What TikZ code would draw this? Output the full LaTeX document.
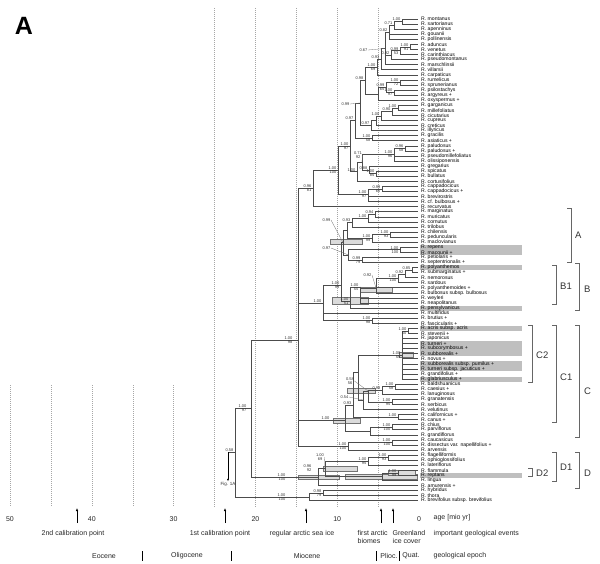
\documentclass[tikz,border=0pt]{standalone}
\usepackage{fontspec}
\setmainfont{Liberation Sans}
\usetikzlibrary{arrows.meta}

\tikzset{
  br/.style={draw=black!70, line width=0.45pt},
  taxon/.style={anchor=west, inner xsep=3pt, inner ysep=0.3pt, font=\fontsize{5.1}{5}\selectfont},
  pp/.style={anchor=south east, inner sep=0.4pt, font=\fontsize{4}{4}\selectfont, text=black!80},
  bs/.style={anchor=north east, inner sep=0.4pt, font=\fontsize{4}{4}\selectfont, text=black!80},
  leadlab/.style={inner sep=0.4pt, align=center, font=\fontsize{4}{4.6}\selectfont, text=black!80},
  lead/.style={draw=black!55, line width=0.3pt},
  hl/.style={fill=black!25},
  ci/.style={fill=black!14, draw=black!55, line width=0.3pt},
  ageline/.style={draw=black!35, line width=0.3pt, dash pattern=on 1pt off 1pt},
  brk/.style={draw=black!60, line width=0.45pt},
  clade/.style={anchor=west, inner sep=0pt, font=\fontsize{9.5}{10}\selectfont, text=black!80},
  axis/.style={inner sep=0.5pt, font=\fontsize{7}{8.5}\selectfont, text=black!85},
  evt/.style={-{Latex[length=3pt,width=2.4pt]}, line width=0.6pt},
}

\begin{document}
\begin{tikzpicture}[x=1pt,y=-1pt]
\useasboundingbox (0,0) rectangle (600,564);

\node[font=\fontsize{25}{25}\selectfont\bfseries] (panel) at (24,26) {A};

\foreach \a in {5,10,15,20,25} \draw[ageline] ({419-8.18*\a},8) -- ({419-8.18*\a},507);
\foreach \a in {30,35,40,45,50} \draw[ageline] ({419-8.18*\a},385) -- ({419-8.18*\a},507);

\fill[hl] (420,244.6) rectangle (522,254.8);
\fill[hl] (420,264.9) rectangle (522,270.0);
\fill[hl] (420,305.5) rectangle (522,310.5);
\fill[hl] (420,325.8) rectangle (522,330.8);
\fill[hl] (420,341.0) rectangle (522,356.1);
\fill[hl] (420,361.3) rectangle (522,371.3);
\fill[hl] (420,376.5) rectangle (522,381.5);
\fill[hl] (420,472.8) rectangle (522,477.8);

\draw[ci] (330,239.5) rectangle (362,244.5);
\draw[ci] (360,287.5) rectangle (392,292.5);
\draw[ci] (332,297.5) rectangle (368,304.5);
\draw[ci] (399,352.5) rectangle (413,357.5);
\draw[ci] (347,388.5) rectangle (375,393.5);
\draw[ci] (333,418) rectangle (360,423);
\draw[ci] (323,466) rectangle (357,471);
\draw[ci] (298,475) rectangle (339,479);
\draw[ci] (345,474) rectangle (417,479);
\draw[ci] (388,470.5) rectangle (415,475);

\foreach \nm [count=\i] in {R. montanus, R. sartorianus, R. apenninus, R. gouanii, R. pollinensis,
  R. aduncus, R. venetus, R. carinthiacus, R. pseudomontanus, R. marschlinsii, R. villarsii,
  R. carpaticus, R. rumelicus, R. sprunerianus, R. psilostachys, R. argyreus +, R. oxyspermus +,
  R. garganicus, R. millefoliatus, R. cicutarius, R. cupreus, R. creticus, R. illyricus,
  R. gracilis, R. asiaticus +, R. paludosus, R. paludosus +, R. pseudomillefoliatus,
  R. olissiponensis, R. gregarius, R. spicatus, R. bullatus, R. cortusifolius, R. cappadocicus,
  R. cappadocicus +, R. brevirostris, R. cf. bulbosus +, R. recurvatus, R. marginatus,
  R. muricatus, R. cornutus, R. trilobus, R. chilensis, R. peduncularis, R. maclovianus,
  R. repens, R. macounii +, R. petiolaris +, R. septentrionalis +, R. polyanthemos,
  R. submarginatus +, R. nemorosus, R. sardous, R. polyanthemoides +, R. bulbosus subsp. bulbosus,
  R. weyleri, R. neapolitanus, R. pensylvanicus, R. multifidus, R. brutius +, R. fascicularis +,
  R. acris subsp. acris, R. stevenii +, R. japonicus, R. turneri +, R. subcorymbosus +,
  R. subborealis +, R. novus +, R. subborealis subsp. pumilus +, R. turneri subsp. jacuticus +,
  R. grandifolius +, R. glabriusculus +, R. baldshuanicus, R. caesius +, R. lanuginosus,
  R. granatensis, R. serbicus, R. velutinus, R. californicus +, R. canus +, R. chius,
  R. parviflorus, R. grandiflorus, R. caucasicus, R. dissectus var. napellifolius +, R. arvensis,
  R. flagelliformis, R. ophioglossifolius, R. lateriflorus, R. flammula, R. reptans, R. lingua,
  R. amurensis +, R. hybridus, R. thora, R. brevifolius subsp. brevifolius}
  \node[taxon] (t\i) at (418,{19+(\i-1)*5.07}) {\nm};

\foreach \n/\x/\y in {a1/402/21.5, a2/394/25.3, a3/389/32.3, a4/410/46.9, a5/400/50.7,
  a6/391/55.1, a7/385/48.5, a8/381/59.1, a9/377/67, b1/400/82.4, b2/394/92.5, b3/386/87.5,
  b4/378/93.8, c1/365/80.4, b5/398/107.8, b6/392/111.6, b7/381/116, b8/376/120.7, b9/371/125.6,
  c2/360/103, g1/372/138.2, c3/355/120.6, d1/405/148.3, d2/394/154.6, e1/376/173.6,
  e2/369/169.8, d3/362/162.2, d4/357/171.7, U0/350/146.2, f1/382/188.8, f3/368/194,
  M0/338/170, R1/313/188.3,
  h1/375/214.2, h2/368/218, h3/352/222.5, h4/390/234.5, h5/372/238.3, h6/347/230.4,
  h7/400/249.7, h8/362/259.9, h9/348/254.8, h10/343/242.6,
  k1/412/270, k2/405/273.8, k3/398/278.2, k4/376/288, k5/360/287, Q2/350/301, Q1/341/285,
  br/372/320.6, P/323/303,
  cA/408/330.8, c2r/402/355, n1/395/386.6, n5/382/390.4, n2/392/401.8, n6/368/391,
  n7/363/400, n3/398/417, C1a/358/372, C1r/353/405, n4/392/427.2, n8/370/431,
  Croot/345/420, o1/392/442.3, o2/348/446, nP/298/340,
  q1/388/457.5, q2/368/461.3, q3/398/472.8, q4/382/476.6, Da/325/468, Ds/318/477,
  w1/323/493, w2/309/496.8, n251/251/408, root/235/452}
  \coordinate (\n) at (\x,\y);

\foreach \p/\c in {a1/t1, a1/t2, a2/a1, a2/t3, a3/a2, a3/t4, a3/t5, a4/t6, a4/t7, a5/a4,
  a5/t8, a6/a5, a6/t9, a7/a3, a7/a6, a7/t10, a8/a7, a8/t11, a9/a8, a9/t12,
  b1/t13, b1/t14, b2/t15, b2/t16, b3/b1, b3/b2, b4/b3, b4/t17, c1/a9, c1/b4,
  b5/t18, b5/t19, b6/b5, b6/t20, b7/b6, b7/t21, b8/b7, b8/t22, b9/b8, b9/t23, c2/c1, c2/b9,
  g1/t24, g1/t25, c3/c2, c3/g1,
  d1/t26, d1/t27, d2/d1, d2/t28, d2/t29, e1/t31, e1/t32, e2/t30, e2/e1, d3/d2, d3/e2,
  d4/d3, d4/t33, U0/c3, U0/d4, f1/t34, f1/t35, f3/f1, f3/t36, f3/t37, M0/U0, M0/f3,
  R1/M0, R1/t38,
  h1/t39, h1/t40, h2/h1, h2/t41, h3/h2, h3/t42, h4/t43, h4/t44, h5/h4, h5/t45, h6/h3, h6/h5,
  h7/t46, h7/t47, h8/t48, h8/t49, h9/h7, h9/h8, h10/h6, h10/h9,
  k1/t50, k1/t51, k2/k1, k2/t52, k3/k2, k3/t53, k4/k3, k4/t54, k4/t55, k5/k4, k5/t56, k5/t57,
  Q2/k5, Q2/t58, Q1/h10, Q1/Q2, br/t60, br/t61, P/Q1, P/t59, P/br,
  cA/t62, cA/t63, c2r/cA, c2r/t64, c2r/t65, c2r/t66, c2r/t67, c2r/t68, c2r/t69, c2r/t70,
  c2r/t71, c2r/t72, n1/t73, n1/t74, n5/n1, n5/t75, n2/t76, n2/t77, n6/n5, n6/n2, n7/n6,
  n7/t78, n3/t79, n3/t80, C1a/c2r, C1a/n7, C1r/C1a, C1r/n3, n4/t81, n4/t82, n8/n4, n8/t83,
  Croot/C1r, Croot/n8, o1/t84, o1/t85, o2/o1, o2/t86, nP/R1, nP/P, nP/Croot, nP/o2,
  q1/t87, q1/t88, q2/q1, q2/t89, q3/t90, q3/t91, q4/q3, q4/t92, Da/q2, Da/q4, Ds/Da, Ds/t93,
  w1/t94, w1/t95, w2/w1, w2/t96, n251/nP, n251/Ds, root/n251, root/w2}
  \draw[br] (\p) |- (\c);

\foreach \c/\a/\b/\d in {a1/1.00/{}/0, a2/0.71/{}/0, a3/0.82/{}/0, a4/1.00/91/0, a5/0.99/53/0,
  a6/0.92/{}/0, a8/0.93/{}/0, a9/1.00/69/0, b1/1.00/72/0, b2/1.00/97/0, b3/0.99/65/0,
  c1/0.98/{}/0, b5/1.00/{}/0, b6/0.90/{}/0, b7/1.00/{}/0, b9/0.97/{}/0, g1/1.00/58/0,
  c3/0.97/{}/0, d1/0.96/58/0, d2/1.00/96/0, e1/1.00/85/0, e2/0.88/{}/0, d4/1.00/{}/0,
  U0/1.00/97/0, f1/0.99/60/0, f3/1.00/97/0, M0/1.00/100/0, R1/0.96/81/0,
  h1/0.94/{}/0, h2/1.00/{}/0, h3/0.93/{}/0, h4/1.00/93/0, h5/1.00/99/0, h7/1.00/100/0,
  h8/0.99/79/0, k1/0.85/{}/0, k2/0.92/{}/0, k3/1.00/100/0, k5/1.00/55/0, Q2/1.00/51/0,
  Q1/1.00/99/0, br/1.00/98/0, P/1.00/{}/0, cA/1.00/50/0, c2r/1.00/59/0, n1/1.00/58/0,
  n5/0.98/{}/0, n2/1.00/95/0, n3/1.00/{}/0, C1r/0.93/{}/0, n4/1.00/100/0, Croot/1.00/{}/-14,
  o1/1.00/100/0, o2/1.00/100/0, nP/1.00/98/-4, q1/1.00/93/0, q2/1.00/95/0, q3/1.00/99/0,
  Da/0.96/92/-12, Ds/1.00/100/-31, w1/0.98/79/0, w2/1.00/100/-22, n251/1.00/97/-3,
  root/0.58/{}/0}
  {\node[pp,xshift=\d pt-1pt] at (\c) {\a};
   \node[bs,xshift=\d pt-1pt] at (\c) {\b};}

\node[leadlab,anchor=east] (l1) at (368,50) {0.67};
\draw[lead] (l1.east) -- (a7);
\node[leadlab,anchor=east] (l2) at (350,104) {0.99};
\draw[lead] (l2.east) -- (c2);
\node[leadlab] (l3) at (358,155) {0.71\\92};
\draw[lead] (l3.east) -- (d3);
\node[leadlab,anchor=east] (l4) at (331,220) {0.99};
\draw[lead] (l4.east) -- (h10);
\node[leadlab,anchor=east] (l5) at (331,248) {0.97};
\draw[lead] (l5.east) -- (h9);
\node[leadlab,anchor=east] (l6) at (372,275) {0.92};
\draw[lead] (l6.east) -- (k4);
\node[leadlab] (l7) at (350,381) {0.58\\56};
\draw[lead] (l7.east) -- (n6);
\node[leadlab,anchor=east] (l8) at (349,397) {0.54};
\draw[lead] (l8.east) -- (n7);
\node[leadlab] (l9) at (320,457) {1.00\\69};
\draw[lead] (l9.east) -- (Da);

\coordinate (stub) at (228,452);
\draw[br] (stub) -- (root);
\node[leadlab,font=\fontsize{4.5}{5}\selectfont] (fig) at (228,484) {Fig. 1A};
\draw[-{Latex[length=2.5pt,width=2pt]}, line width=0.4pt] (stub) -- (fig.north);

\draw[brk] (567,208) -- (571,208) -- (571,262) -- (567,262);
\node[clade] (cladeA) at (575,235) {A};
\draw[brk] (552,265) -- (556,265) -- (556,304) -- (552,304);
\node[clade] (cladeB1) at (560,286) {B1};
\draw[brk] (575,263) -- (579,263) -- (579,310) -- (575,310);
\node[clade] (cladeB) at (584,289) {B};
\draw[brk] (528,325) -- (532,325) -- (532,382) -- (528,382);
\node[clade] (cladeC2) at (536,355) {C2};
\draw[brk] (552,325) -- (556,325) -- (556,422) -- (552,422);
\node[clade] (cladeC1) at (560,377) {C1};
\draw[brk] (575,325) -- (579,325) -- (579,437) -- (575,437);
\node[clade] (cladeC) at (584,391) {C};
\draw[brk] (528,468) -- (532,468) -- (532,476) -- (528,476);
\node[clade] (cladeD2) at (536,473) {D2};
\draw[brk] (552,452) -- (556,452) -- (556,481) -- (552,481);
\node[clade] (cladeD1) at (560,467) {D1};
\draw[brk] (575,452) -- (579,452) -- (579,488) -- (575,488);
\node[clade] (cladeD) at (584,473) {D};

\foreach \a in {0,10,20,30,40,50} \node[axis] at ({419-8.18*\a},519) {\a};
\node[axis,anchor=west] (age) at (433,518) {age [mio yr]};

\foreach \n/\x in {cal2/77, cal1/225, seaice/306, biomes/381, green/393}
  {\coordinate (\n a) at (\x,523); \coordinate (\n b) at (\x,508);
   \draw[evt] (\n a) -- (\n b);}
\node[axis] (ev1) at (73,534) {2nd calibration point};
\node[axis] (ev2) at (220,534) {1st calibration point};
\node[axis] (ev3) at (302,534) {regular arctic sea ice};
\node[axis,anchor=north west,align=left] (ev4) at (357,529.5) {first arctic\\biomes};
\node[axis,anchor=north west,align=left] (ev5) at (392,529.5) {Greenland\\ice cover};
\node[axis,anchor=west] (ev6) at (433,534) {important geological events};

\node[axis] (ep1) at (104,556) {Eocene};
\node[axis] (ep2) at (187,556) {Oligocene};
\node[axis] (ep3) at (307,556) {Miocene};
\node[axis] (ep4) at (389,556) {Plioc.};
\node[axis] (ep5) at (411,556) {Quat.};
\node[axis,anchor=west] (ep6) at (433,556) {geological epoch};
\foreach \x in {142,231,376,399} \draw[line width=0.8pt] (\x,551) -- (\x,561);
\end{tikzpicture}
\end{document}
